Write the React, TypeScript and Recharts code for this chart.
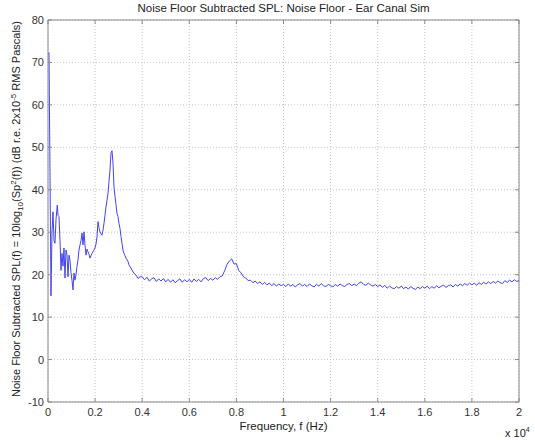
import React from 'react'
import { LineChart, Line, XAxis, YAxis, CartesianGrid, ReferenceLine } from 'recharts'

// low-frequency part
const lowFreqHz = [
  0, 42, 85, 127, 170, 212, 255, 297, 340, 395, 425, 467, 510, 552, 594, 637, 679, 722, 764, 807,
  849, 892, 934, 977, 1019, 1062, 1104, 1146, 1189, 1231, 1274, 1316, 1359, 1401, 1444, 1486, 1529, 1571, 1614, 1656,
  1699, 1741, 1783, 1826, 1868, 1911, 1953, 1996, 2038, 2081, 2123, 2166, 2208, 2251, 2293, 2336, 2378, 2420, 2463, 2505,
  2548, 2590, 2633, 2675, 2718, 2760, 2803, 2845, 2888, 2930, 2972, 3015, 3057, 3100, 3142, 3185, 3227, 3270, 3312, 3355,
  3397, 3440, 3482, 3567, 3652, 3737, 3822, 3906,
]
const lowSpl = [
  72, 72.3, 44, 15, 30, 34.8, 28, 27.4, 33, 36.4, 34, 33.7, 28, 21, 25, 22, 26.3, 19.2, 25.8, 24.6,
  19.5, 24.6, 23.4, 20.5, 18.7, 16.4, 20.4, 18.7, 20, 21.9, 23.5, 25.8, 27, 28, 29.8, 27, 30.1, 27, 24.6, 26,
  25.4, 24.8, 23.9, 24.5, 25, 25.4, 25.8, 26.3, 27.2, 28.9, 32.5, 31, 30.1, 29.6, 29.3, 30.5, 32.1, 34, 36, 37.5,
  39.2, 42, 44.7, 48.7, 49.2, 46.3, 40.7, 38.4, 36.5, 34.4, 33.7, 32, 30.9, 29, 27.4, 25.8, 25, 24.5, 23.9, 23.5,
  23.1, 22.3, 21.9, 21.1, 20.3, 19.9, 19.1, 19.5,
]

// noise floor from 4 kHz to 20 kHz, one reading every 100 Hz
const floorStartHz = 4000
const floorStepHz = 100
const floorSpl = [
  19.5, 18.8, 19.4, 18.5, 19.0, 19.3, 18.4, 19.0, 18.5, 19.1,
  18.3, 18.9, 18.2, 18.8, 18.1, 18.6, 19.0, 18.2, 18.8, 18.3,
  18.9, 18.2, 19.0, 18.4, 18.9, 18.3, 19.1, 19.3, 18.6, 19.1,
  18.7, 19.3, 18.9, 19.5, 19.7, 20.9, 22.4, 23.2, 23.7, 22.5,
  22.6, 21.0, 20.4, 19.5, 19.2, 18.6, 18.7, 18.1, 18.5, 17.9,
  18.3, 17.7, 18.2, 17.6, 18.0, 17.4, 17.9, 17.3, 17.8, 17.4,
  17.7, 17.2, 17.8, 17.3, 17.7, 17.1, 17.6, 17.9, 17.3, 17.7,
  17.2, 17.8, 17.4, 17.1, 17.7, 17.3, 17.9, 17.4, 17.2, 17.7,
  17.4, 17.1, 17.7, 17.3, 17.8, 17.4, 17.2, 17.7, 17.9, 17.4,
  17.8, 17.4, 18.0, 18.3, 17.7, 17.5, 18.0, 17.6, 17.3, 17.7,
  17.2, 17.6, 17.0, 17.5, 16.8, 17.3, 16.9, 16.7, 17.2, 16.8,
  17.3, 16.7, 17.1, 16.6, 17.2, 16.8, 16.5, 17.1, 16.7, 17.2,
  16.8, 17.3, 16.7, 17.2, 16.8, 17.4, 16.9, 17.3, 17.5, 17.0,
  17.4, 17.6, 17.1, 17.7, 17.3, 17.8, 17.4, 17.9, 17.5, 18.0,
  17.6, 18.0, 17.5, 18.1, 17.7, 18.2, 17.8, 18.3, 17.9, 18.4,
  18.0, 18.5, 18.1, 17.9, 18.6, 18.2, 18.7, 18.3, 18.8, 18.4,
  18.6,
]

const xTicks = [0, 2000, 4000, 6000, 8000, 10000, 12000, 14000, 16000, 18000, 20000]
const yTicks = [-10, 0, 10, 20, 30, 40, 50, 60, 70, 80]

const data = [
  ...lowFreqHz.map((f, i) => ({ f, spl: lowSpl[i] })),
  ...floorSpl.map((v, i) => ({ f: floorStartHz + i * floorStepHz, spl: v })),
]

const W = 535
const H = 440
const LEFT = 48
const RIGHT = 519
const TOP = 20
const BOTTOM = 402
const FONT = '"Liberation Sans", Arial, sans-serif'
const FRAME = '#8a8a8a'

const XTick = (props: any) => {
  const { x, payload } = props
  return (
    <g>
      <line x1={x} x2={x} y1={BOTTOM} y2={BOTTOM - 4} stroke={FRAME} />
      <line x1={x} x2={x} y1={TOP} y2={TOP + 4} stroke={FRAME} />
      <text x={x} y={BOTTOM + 14} textAnchor="middle" fontSize={11} fill="#333" fontFamily={FONT}>
        {payload.value / 10000}
      </text>
    </g>
  )
}

const YTick = (props: any) => {
  const { y, payload } = props
  return (
    <g>
      <line x1={LEFT} x2={LEFT + 4} y1={y} y2={y} stroke={FRAME} />
      <line x1={RIGHT} x2={RIGHT - 4} y1={y} y2={y} stroke={FRAME} />
      <text x={LEFT - 4} y={y + 4} textAnchor="end" fontSize={11} fill="#333" fontFamily={FONT}>
        {payload.value}
      </text>
    </g>
  )
}

const App = () => {
  return (
    <div style={{ position: 'absolute', left: 0, top: 0, width: W, height: H, background: '#fff', fontFamily: FONT }}>
      <div style={{ position: 'absolute', top: 2, left: LEFT, width: RIGHT - LEFT, textAlign: 'center', fontSize: 11.5, color: '#222' }}>
        Noise Floor Subtracted SPL: Noise Floor - Ear Canal Sim
      </div>

      <div
        style={{
          position: 'absolute',
          left: 17,
          top: 209,
          transform: 'translate(-50%, -50%) rotate(-90deg)',
          whiteSpace: 'nowrap',
          fontSize: 11,
          color: '#222',
        }}
      >
        Noise Floor Subtracted SPL(f) = 10log<sub style={{ fontSize: 8 }}>10</sub>(Sp<sup style={{ fontSize: 8 }}>2</sup>(f)) (dB r.e. 2x10<sup style={{ fontSize: 8 }}>-5</sup> RMS Pascals)
      </div>

      <div style={{ position: 'absolute', left: LEFT, width: RIGHT - LEFT, top: 420, textAlign: 'center', fontSize: 11.5, color: '#222' }}>
        Frequency, f (Hz)
      </div>
      <div style={{ position: 'absolute', left: 505, top: 426, fontSize: 11, color: '#222' }}>
        x 10<sup style={{ fontSize: 7 }}>4</sup>
      </div>

      <LineChart
        width={W}
        height={H}
        data={data}
        margin={{ top: TOP, right: W - RIGHT, bottom: H - BOTTOM - 20, left: 0 }}
        style={{ position: 'absolute', left: 0, top: 0 }}
      >
        <CartesianGrid stroke="#c4c4c4" strokeDasharray="1 2" horizontalValues={yTicks} verticalValues={xTicks} />
        <XAxis
          dataKey="f"
          type="number"
          domain={[0, 20000]}
          ticks={xTicks}
          height={20}
          axisLine={{ stroke: FRAME }}
          tickLine={false}
          tick={<XTick />}
          interval={0}
        />
        <YAxis
          type="number"
          domain={[-10, 80]}
          ticks={yTicks}
          width={LEFT}
          axisLine={{ stroke: FRAME }}
          tickLine={false}
          tick={<YTick />}
          interval={0}
        />
        <ReferenceLine y={80} stroke={FRAME} />
        <ReferenceLine x={20000} stroke={FRAME} />
        <Line
          dataKey="spl"
          type="linear"
          stroke="#4343f0"
          strokeWidth={1}
          dot={false}
          isAnimationActive={false}
        />
      </LineChart>
    </div>
  )
}

export default App
